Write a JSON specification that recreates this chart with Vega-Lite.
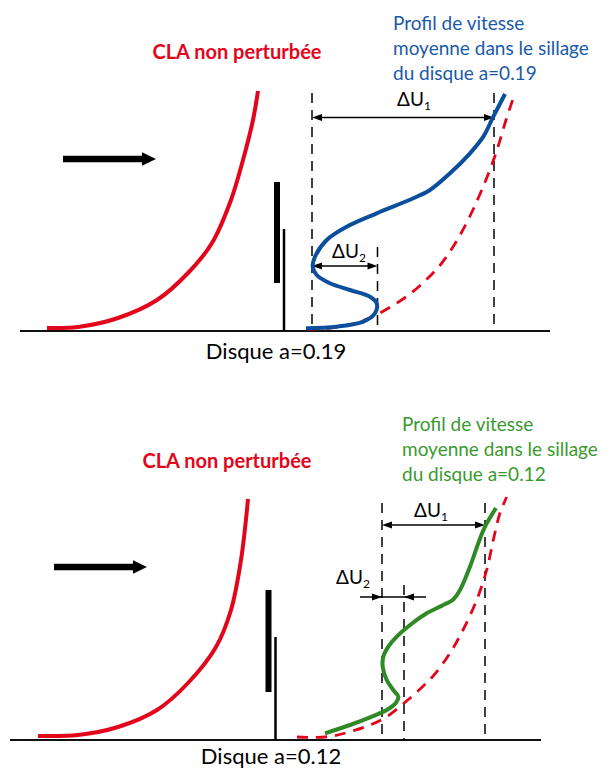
{
  "$schema": "https://vega.github.io/schema/vega-lite/v6.json",
  "width": 612,
  "height": 769,
  "autosize": {"type": "fit", "contains": "padding"},
  "padding": 0,
  "background": "white",
  "config": {"view": {"stroke": null}},
  "datasets": {
    "curves": [
      {"c": "cla1", "i": 0, "x": 47, "y": 328}, {"c": "cla1", "i": 1, "x": 78, "y": 327}, {"c": "cla1", "i": 2, "x": 118, "y": 318}, {"c": "cla1", "i": 3, "x": 157, "y": 300}, {"c": "cla1", "i": 4, "x": 188, "y": 273}, {"c": "cla1", "i": 5, "x": 212, "y": 243}, {"c": "cla1", "i": 6, "x": 231, "y": 200}, {"c": "cla1", "i": 7, "x": 243, "y": 160}, {"c": "cla1", "i": 8, "x": 253, "y": 120}, {"c": "cla1", "i": 9, "x": 258, "y": 91},
      {"c": "cla2", "i": 0, "x": 38, "y": 736}, {"c": "cla2", "i": 1, "x": 78, "y": 735}, {"c": "cla2", "i": 2, "x": 118, "y": 727}, {"c": "cla2", "i": 3, "x": 157, "y": 710}, {"c": "cla2", "i": 4, "x": 188, "y": 683}, {"c": "cla2", "i": 5, "x": 216, "y": 647}, {"c": "cla2", "i": 6, "x": 231, "y": 610}, {"c": "cla2", "i": 7, "x": 241, "y": 560}, {"c": "cla2", "i": 8, "x": 248, "y": 499},
      {"c": "ref1", "i": 0, "x": 307, "y": 329}, {"c": "ref1", "i": 1, "x": 330, "y": 328}, {"c": "ref1", "i": 2, "x": 352, "y": 324}, {"c": "ref1", "i": 3, "x": 372, "y": 317}, {"c": "ref1", "i": 4, "x": 392, "y": 306}, {"c": "ref1", "i": 5, "x": 410, "y": 294}, {"c": "ref1", "i": 6, "x": 426, "y": 280}, {"c": "ref1", "i": 7, "x": 441, "y": 264}, {"c": "ref1", "i": 8, "x": 456, "y": 242}, {"c": "ref1", "i": 9, "x": 470, "y": 216}, {"c": "ref1", "i": 10, "x": 483, "y": 187}, {"c": "ref1", "i": 11, "x": 496, "y": 153}, {"c": "ref1", "i": 12, "x": 506, "y": 120}, {"c": "ref1", "i": 13, "x": 515, "y": 93},
      {"c": "ref2", "i": 0, "x": 297, "y": 737}, {"c": "ref2", "i": 1, "x": 313, "y": 737.5}, {"c": "ref2", "i": 2, "x": 333, "y": 736}, {"c": "ref2", "i": 3, "x": 350, "y": 731.7}, {"c": "ref2", "i": 4, "x": 370, "y": 725}, {"c": "ref2", "i": 5, "x": 386.7, "y": 716.7}, {"c": "ref2", "i": 6, "x": 403, "y": 704}, {"c": "ref2", "i": 7, "x": 418, "y": 691}, {"c": "ref2", "i": 8, "x": 434, "y": 675}, {"c": "ref2", "i": 9, "x": 450, "y": 653}, {"c": "ref2", "i": 10, "x": 463, "y": 630}, {"c": "ref2", "i": 11, "x": 476.7, "y": 600}, {"c": "ref2", "i": 12, "x": 486.7, "y": 570}, {"c": "ref2", "i": 13, "x": 493.3, "y": 540}, {"c": "ref2", "i": 14, "x": 500, "y": 513}, {"c": "ref2", "i": 15, "x": 506.7, "y": 497},
      {"c": "wake1", "i": 0, "x": 306, "y": 328.3}, {"c": "wake1", "i": 1, "x": 336.7, "y": 326.7}, {"c": "wake1", "i": 2, "x": 363.3, "y": 321.7}, {"c": "wake1", "i": 3, "x": 375, "y": 313.3}, {"c": "wake1", "i": 4, "x": 376.7, "y": 303.3}, {"c": "wake1", "i": 5, "x": 370, "y": 296.7}, {"c": "wake1", "i": 6, "x": 350, "y": 290}, {"c": "wake1", "i": 7, "x": 330, "y": 283.3}, {"c": "wake1", "i": 8, "x": 316.7, "y": 275}, {"c": "wake1", "i": 9, "x": 312.7, "y": 266.7}, {"c": "wake1", "i": 10, "x": 315, "y": 256.7}, {"c": "wake1", "i": 11, "x": 326.7, "y": 240}, {"c": "wake1", "i": 12, "x": 346.7, "y": 226.7}, {"c": "wake1", "i": 13, "x": 376.7, "y": 213.3}, {"c": "wake1", "i": 14, "x": 413.3, "y": 198.3}, {"c": "wake1", "i": 15, "x": 430, "y": 190}, {"c": "wake1", "i": 16, "x": 450, "y": 173.3}, {"c": "wake1", "i": 17, "x": 470, "y": 153.3}, {"c": "wake1", "i": 18, "x": 483.3, "y": 136.7}, {"c": "wake1", "i": 19, "x": 493.3, "y": 116.7}, {"c": "wake1", "i": 20, "x": 505, "y": 94},
      {"c": "wake2", "i": 0, "x": 325, "y": 733.3}, {"c": "wake2", "i": 1, "x": 350, "y": 725}, {"c": "wake2", "i": 2, "x": 370, "y": 717.3}, {"c": "wake2", "i": 3, "x": 386.7, "y": 710}, {"c": "wake2", "i": 4, "x": 396, "y": 702.7}, {"c": "wake2", "i": 5, "x": 398.3, "y": 696.7}, {"c": "wake2", "i": 6, "x": 393.3, "y": 690}, {"c": "wake2", "i": 7, "x": 386.7, "y": 680}, {"c": "wake2", "i": 8, "x": 382.7, "y": 666.7}, {"c": "wake2", "i": 9, "x": 383.3, "y": 656.7}, {"c": "wake2", "i": 10, "x": 388.3, "y": 646.7}, {"c": "wake2", "i": 11, "x": 396.7, "y": 636.7}, {"c": "wake2", "i": 12, "x": 410, "y": 625}, {"c": "wake2", "i": 13, "x": 426.7, "y": 613.3}, {"c": "wake2", "i": 14, "x": 443.3, "y": 605}, {"c": "wake2", "i": 15, "x": 452.7, "y": 600}, {"c": "wake2", "i": 16, "x": 460, "y": 590}, {"c": "wake2", "i": 17, "x": 470, "y": 566.7}, {"c": "wake2", "i": 18, "x": 478.3, "y": 543.3}, {"c": "wake2", "i": 19, "x": 485, "y": 526.7}, {"c": "wake2", "i": 20, "x": 496, "y": 508}
    ],
    "segs": [
      {"k": "base", "x": 20, "x2": 550, "y": 331, "y2": 331},
      {"k": "base", "x": 10, "x2": 541, "y": 740, "y2": 740},
      {"k": "dash", "x": 312, "x2": 312, "y": 93, "y2": 331},
      {"k": "dash", "x": 377.5, "x2": 377.5, "y": 247, "y2": 331},
      {"k": "dash", "x": 494, "x2": 494, "y": 93, "y2": 331},
      {"k": "dash", "x": 382, "x2": 382, "y": 503, "y2": 740},
      {"k": "dash", "x": 404, "x2": 404, "y": 585, "y2": 740},
      {"k": "dash", "x": 485, "x2": 485, "y": 503, "y2": 740},
      {"k": "dim", "x": 318, "x2": 488, "y": 117.5, "y2": 117.5},
      {"k": "dim", "x": 318, "x2": 372, "y": 266, "y2": 266},
      {"k": "dim", "x": 387, "x2": 479, "y": 525, "y2": 525},
      {"k": "dim", "x": 360, "x2": 426, "y": 597, "y2": 597},
      {"k": "thick", "x": 277, "x2": 277, "y": 182, "y2": 283},
      {"k": "thin", "x": 284, "x2": 284, "y": 229, "y2": 331},
      {"k": "thick", "x": 268.5, "x2": 268.5, "y": 590, "y2": 692},
      {"k": "thin", "x": 275.5, "x2": 275.5, "y": 637, "y2": 740},
      {"k": "shaft", "x": 63, "x2": 145, "y": 159, "y2": 159},
      {"k": "shaft", "x": 54, "x2": 136, "y": 567, "y2": 567}
    ],
    "heads": [
      {"k": "R", "x": 494, "y": 117.5},
      {"k": "L", "x": 312, "y": 117.5},
      {"k": "R", "x": 377.5, "y": 266},
      {"k": "L", "x": 312, "y": 266},
      {"k": "R", "x": 485, "y": 525},
      {"k": "L", "x": 382, "y": 525},
      {"k": "R", "x": 382, "y": 597},
      {"k": "L", "x": 404, "y": 597},
      {"k": "big", "x": 156, "y": 159},
      {"k": "big", "x": 147, "y": 567}
    ],
    "texts": [
      {"k": "cla", "t": "CLA non perturbée", "x": 237, "y": 53},
      {"k": "cla", "t": "CLA non perturbée", "x": 227, "y": 462},
      {"k": "blue", "t": "Profil de vitesse", "x": 393, "y": 24},
      {"k": "blue", "t": "moyenne dans le sillage", "x": 393, "y": 49},
      {"k": "blue", "t": "du disque a=0.19", "x": 393, "y": 74},
      {"k": "green", "t": "Profil de vitesse", "x": 402, "y": 425},
      {"k": "green", "t": "moyenne dans le sillage", "x": 402, "y": 450},
      {"k": "green", "t": "du disque a=0.12", "x": 402, "y": 475},
      {"k": "disk", "t": "Disque a=0.19", "x": 276, "y": 352},
      {"k": "disk", "t": "Disque a=0.12", "x": 271, "y": 757},
      {"k": "du", "t": "ΔU", "x": 397, "y": 100},
      {"k": "sub", "t": "1", "x": 424, "y": 106},
      {"k": "du", "t": "ΔU", "x": 332, "y": 252},
      {"k": "sub", "t": "2", "x": 359, "y": 258},
      {"k": "du", "t": "ΔU", "x": 414, "y": 511},
      {"k": "sub", "t": "1", "x": 441, "y": 517},
      {"k": "du", "t": "ΔU", "x": 336, "y": 578},
      {"k": "sub", "t": "2", "x": 363, "y": 584}
    ]
  },
  "layer": [
    {
      "data": {"name": "segs"},
      "transform": [{"filter": "datum.k == 'base'"}],
      "mark": {"type": "rule", "color": "#111111", "strokeWidth": 2},
      "encoding": {
        "x": {"field": "x", "type": "quantitative", "scale": {"domain": [0, 612], "nice": false, "zero": false}, "axis": null},
        "x2": {"field": "x2"},
        "y": {"field": "y", "type": "quantitative", "scale": {"domain": [0, 769], "reverse": true, "nice": false, "zero": false}, "axis": null},
        "y2": {"field": "y2"}
      }
    },
    {
      "data": {"name": "segs"},
      "transform": [{"filter": "datum.k == 'dash'"}],
      "mark": {"type": "rule", "color": "#000000", "strokeWidth": 1.5, "strokeDash": [10, 7]},
      "encoding": {
        "x": {"field": "x", "type": "quantitative", "axis": null},
        "x2": {"field": "x2"},
        "y": {"field": "y", "type": "quantitative", "axis": null},
        "y2": {"field": "y2"}
      }
    },
    {
      "data": {"name": "segs"},
      "transform": [{"filter": "datum.k == 'dim'"}],
      "mark": {"type": "rule", "color": "#000000", "strokeWidth": 1.6},
      "encoding": {
        "x": {"field": "x", "type": "quantitative", "axis": null},
        "x2": {"field": "x2"},
        "y": {"field": "y", "type": "quantitative", "axis": null},
        "y2": {"field": "y2"}
      }
    },
    {
      "data": {"name": "segs"},
      "transform": [{"filter": "datum.k == 'thick'"}],
      "mark": {"type": "rule", "color": "#000000", "strokeWidth": 6},
      "encoding": {
        "x": {"field": "x", "type": "quantitative", "axis": null},
        "x2": {"field": "x2"},
        "y": {"field": "y", "type": "quantitative", "axis": null},
        "y2": {"field": "y2"}
      }
    },
    {
      "data": {"name": "segs"},
      "transform": [{"filter": "datum.k == 'thin'"}],
      "mark": {"type": "rule", "color": "#000000", "strokeWidth": 2.5},
      "encoding": {
        "x": {"field": "x", "type": "quantitative", "axis": null},
        "x2": {"field": "x2"},
        "y": {"field": "y", "type": "quantitative", "axis": null},
        "y2": {"field": "y2"}
      }
    },
    {
      "data": {"name": "segs"},
      "transform": [{"filter": "datum.k == 'shaft'"}],
      "mark": {"type": "rule", "color": "#000000", "strokeWidth": 6.5},
      "encoding": {
        "x": {"field": "x", "type": "quantitative", "axis": null},
        "x2": {"field": "x2"},
        "y": {"field": "y", "type": "quantitative", "axis": null},
        "y2": {"field": "y2"}
      }
    },
    {
      "data": {"name": "heads"},
      "transform": [{"filter": "datum.k == 'R'"}],
      "mark": {"type": "point", "shape": "M0,0L-2,-0.7L-2,0.7Z", "size": 100, "filled": true, "color": "#000000", "opacity": 1},
      "encoding": {
        "x": {"field": "x", "type": "quantitative", "axis": null},
        "y": {"field": "y", "type": "quantitative", "axis": null}
      }
    },
    {
      "data": {"name": "heads"},
      "transform": [{"filter": "datum.k == 'L'"}],
      "mark": {"type": "point", "shape": "M0,0L2,-0.7L2,0.7Z", "size": 100, "filled": true, "color": "#000000", "opacity": 1},
      "encoding": {
        "x": {"field": "x", "type": "quantitative", "axis": null},
        "y": {"field": "y", "type": "quantitative", "axis": null}
      }
    },
    {
      "data": {"name": "heads"},
      "transform": [{"filter": "datum.k == 'big'"}],
      "mark": {"type": "point", "shape": "M0,0L-2,-0.95L-2,0.95Z", "size": 196, "filled": true, "color": "#000000", "opacity": 1},
      "encoding": {
        "x": {"field": "x", "type": "quantitative", "axis": null},
        "y": {"field": "y", "type": "quantitative", "axis": null}
      }
    },
    {
      "data": {"name": "curves"},
      "transform": [{"filter": "datum.c == 'cla1' || datum.c == 'cla2'"}],
      "mark": {"type": "line", "color": "#e3051b", "strokeWidth": 4, "interpolate": "catmull-rom"},
      "encoding": {
        "x": {"field": "x", "type": "quantitative", "axis": null},
        "y": {"field": "y", "type": "quantitative", "axis": null},
        "detail": {"field": "c"},
        "order": {"field": "i", "type": "quantitative"}
      }
    },
    {
      "data": {"name": "curves"},
      "transform": [{"filter": "datum.c == 'ref1' || datum.c == 'ref2'"}],
      "mark": {"type": "line", "color": "#e3051b", "strokeWidth": 2.8, "strokeDash": [11, 8], "interpolate": "catmull-rom"},
      "encoding": {
        "x": {"field": "x", "type": "quantitative", "axis": null},
        "y": {"field": "y", "type": "quantitative", "axis": null},
        "detail": {"field": "c"},
        "order": {"field": "i", "type": "quantitative"}
      }
    },
    {
      "data": {"name": "curves"},
      "transform": [{"filter": "datum.c == 'wake1'"}],
      "mark": {"type": "line", "color": "#0b4f9c", "strokeWidth": 4, "interpolate": "catmull-rom"},
      "encoding": {
        "x": {"field": "x", "type": "quantitative", "axis": null},
        "y": {"field": "y", "type": "quantitative", "axis": null},
        "order": {"field": "i", "type": "quantitative"}
      }
    },
    {
      "data": {"name": "curves"},
      "transform": [{"filter": "datum.c == 'wake2'"}],
      "mark": {"type": "line", "color": "#2f8a26", "strokeWidth": 4, "interpolate": "catmull-rom"},
      "encoding": {
        "x": {"field": "x", "type": "quantitative", "axis": null},
        "y": {"field": "y", "type": "quantitative", "axis": null},
        "order": {"field": "i", "type": "quantitative"}
      }
    },
    {
      "data": {"name": "texts"},
      "transform": [{"filter": "datum.k == 'cla'"}],
      "mark": {"type": "text", "font": "Lato", "fontWeight": "bold", "fontSize": 20, "color": "#e3051b", "align": "center", "baseline": "middle"},
      "encoding": {
        "x": {"field": "x", "type": "quantitative", "axis": null},
        "y": {"field": "y", "type": "quantitative", "axis": null},
        "text": {"field": "t"}
      }
    },
    {
      "data": {"name": "texts"},
      "transform": [{"filter": "datum.k == 'blue'"}],
      "mark": {"type": "text", "font": "Lato", "fontSize": 19, "color": "#1a5aa8", "align": "left", "baseline": "middle"},
      "encoding": {
        "x": {"field": "x", "type": "quantitative", "axis": null},
        "y": {"field": "y", "type": "quantitative", "axis": null},
        "text": {"field": "t"}
      }
    },
    {
      "data": {"name": "texts"},
      "transform": [{"filter": "datum.k == 'green'"}],
      "mark": {"type": "text", "font": "Lato", "fontSize": 19, "color": "#3a9a30", "align": "left", "baseline": "middle"},
      "encoding": {
        "x": {"field": "x", "type": "quantitative", "axis": null},
        "y": {"field": "y", "type": "quantitative", "axis": null},
        "text": {"field": "t"}
      }
    },
    {
      "data": {"name": "texts"},
      "transform": [{"filter": "datum.k == 'disk'"}],
      "mark": {"type": "text", "font": "Lato", "fontSize": 22, "color": "#000000", "align": "center", "baseline": "middle"},
      "encoding": {
        "x": {"field": "x", "type": "quantitative", "axis": null},
        "y": {"field": "y", "type": "quantitative", "axis": null},
        "text": {"field": "t"}
      }
    },
    {
      "data": {"name": "texts"},
      "transform": [{"filter": "datum.k == 'du'"}],
      "mark": {"type": "text", "font": "Lato", "fontSize": 19, "color": "#000000", "align": "left", "baseline": "middle"},
      "encoding": {
        "x": {"field": "x", "type": "quantitative", "axis": null},
        "y": {"field": "y", "type": "quantitative", "axis": null},
        "text": {"field": "t"}
      }
    },
    {
      "data": {"name": "texts"},
      "transform": [{"filter": "datum.k == 'sub'"}],
      "mark": {"type": "text", "font": "Lato", "fontSize": 12, "color": "#000000", "align": "left", "baseline": "middle"},
      "encoding": {
        "x": {"field": "x", "type": "quantitative", "axis": null},
        "y": {"field": "y", "type": "quantitative", "axis": null},
        "text": {"field": "t"}
      }
    }
  ]
}
